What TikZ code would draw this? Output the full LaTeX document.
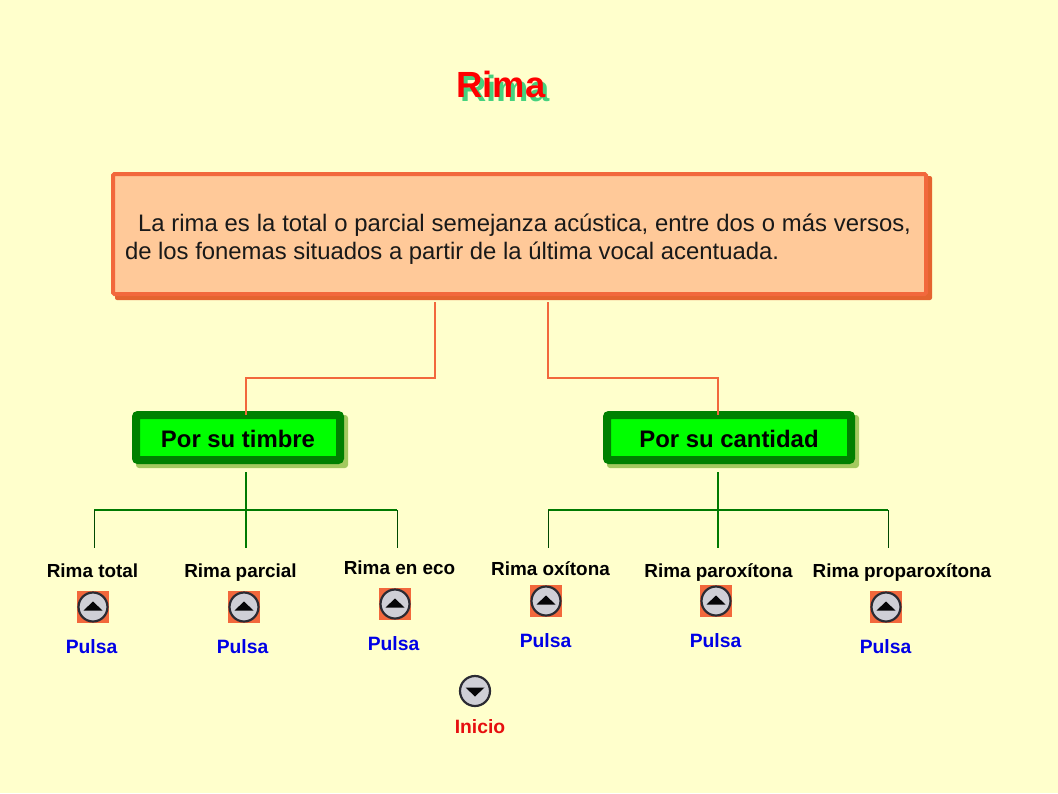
\documentclass[tikz,border=0pt]{standalone}
\usepackage{fontspec}
\setmainfont{Liberation Sans}
\definecolor{bgc}{HTML}{FFFFCC}
\definecolor{orangeln}{HTML}{F2683C}
\definecolor{orangeshadow}{HTML}{E4642F}
\definecolor{peach}{HTML}{FFC999}
\definecolor{greenln}{HTML}{007A00}
\definecolor{greenbord}{HTML}{008000}
\definecolor{greenfill}{HTML}{00FF00}
\definecolor{greenshadow}{HTML}{A3C95F}
\definecolor{titleshadow}{HTML}{45D27E}
\definecolor{btngrey}{HTML}{CFCFD6}
\definecolor{btndark}{HTML}{2B2B33}
\definecolor{pulsablue}{HTML}{0000E6}
\definecolor{iniciored}{HTML}{E60F0F}
\tikzset{
  x=1pt,y=-1pt,
  titletext/.style={font=\fontsize{36.4}{40}\selectfont\bfseries,inner sep=0,anchor=base},
  defbox/.style={draw=orangeln,line width=4pt,fill=peach,rounded corners=1.5pt,minimum width=813pt,minimum height=120pt,inner sep=0},
  defshadow/.style={fill=orangeshadow,rounded corners=2pt,minimum width=817pt,minimum height=124pt,inner sep=0},
  catbox/.style={draw=greenbord,line width=8pt,fill=greenfill,rounded corners=2pt,minimum height=45pt,inner sep=0,text height=19pt,text depth=0pt,font=\fontsize{23.9}{28}\selectfont\bfseries},
  catshadow/.style={fill=greenshadow,rounded corners=3pt,minimum height=53pt,inner sep=0},
  orangeconn/.style={draw=orangeln,line width=1.5pt},
  greenconn/.style={draw=greenln,line width=1.5pt},
  blackconn/.style={draw=greenln!60!black,line width=1pt},
  leaflabel/.style={font=\fontsize{18.9}{22}\selectfont\bfseries,inner sep=0,anchor=base},
  pulsalabel/.style={font=\fontsize{19.3}{22}\selectfont\bfseries,text=pulsablue,inner sep=0,anchor=base},
  iniciolabel/.style={font=\fontsize{19.3}{22}\selectfont\bfseries,text=iniciored,inner sep=0,anchor=base},
  btnsquare/.style={fill=orangeln,minimum size=32pt,inner sep=0},
  btncircle/.style={circle,draw=btndark,line width=2.2pt,fill=btngrey,minimum size=29pt,inner sep=0},
  btntri/.style={fill=black!85!btndark,draw=none},
}
\newcommand{\upbtn}[3]{%
  \node[btnsquare] (#1s) at (#2,#3) {};
  \node[btncircle] (#1c) at (#2,#3) {};
  \fill[btntri] ([shift={(-9.5,3.5)}]#1c.center) -- ([shift={(9.5,3.5)}]#1c.center) -- ([shift={(0,-5.5)}]#1c.center) -- cycle;
}
\begin{document}
\begin{tikzpicture}
\useasboundingbox[fill=bgc] (0,0) rectangle (1058,793);
% title
\node[titletext,text=titleshadow] (titleshadow) at (505,101) {Rima};
\node[titletext,text=red] (title) at (501,97) {Rima};
% definition
\node[defshadow] (defs) at (523.5,238) {};
\node[defbox] (def) at (519.5,234) {};
\node[font=\fontsize{23.87}{28}\selectfont,text width=786pt,align=justify,inner sep=0,text=black!90] (deftext) at (518,239)
 {\hspace*{13pt}La rima es la total o parcial semejanza acústica, entre dos o más versos, de los fonemas situados a partir de la última vocal acentuada.};
% categories
\node[catshadow,minimum width=212pt] (tims) at (242,441.5) {};
\node[catshadow,minimum width=252pt] (cans) at (733,441.5) {};
\node[catbox,minimum width=204pt] (timbre) at (238,437.5) {Por su timbre};
\node[catbox,minimum width=244pt] (cantidad) at (729,437.5) {Por su cantidad};
% coordinates
\coordinate (defL) at (435,302);
\coordinate (defR) at (548,302);
\coordinate (timIn) at (246,414.5);
\coordinate (canIn) at (718,414.5);
\coordinate (timOut) at (246,472);
\coordinate (canOut) at (718,472);
\coordinate (timEnd) at (246,548);
\coordinate (canEnd) at (718,548);
\coordinate (a1) at (94,548);
\coordinate (a2) at (397,548);
\coordinate (b1) at (548,548);
\coordinate (b2) at (888,548);
% connectors
\draw[orangeconn] (defL) |- (timIn |- 0,378) -- (timIn);
\draw[orangeconn] (defR) |- (canIn |- 0,378) -- (canIn);
\draw[greenconn] (timOut) -- (timEnd);
\draw[greenconn] (canOut) -- (canEnd);
\draw[greenconn] (a1 |- 0,510) -- (a2 |- 0,510);
\draw[greenconn] (b1 |- 0,510) -- (b2 |- 0,510);
\draw[blackconn] (a1 |- 0,510) -- (a1);
\draw[blackconn] (a2 |- 0,510) -- (a2);
\draw[blackconn] (b1 |- 0,510) -- (b1);
\draw[blackconn] (b2 |- 0,510) -- (b2);
% leaves
\node[leaflabel] (l1) at (92.5,577) {Rima total};
\node[leaflabel] (l2) at (240.5,577) {Rima parcial};
\node[leaflabel] (l3) at (399.5,574) {Rima en eco};
\node[leaflabel] (l4) at (550.5,575) {Rima oxítona};
\node[leaflabel] (l5) at (718.5,577) {Rima paroxítona};
\node[leaflabel] (l6) at (902,577) {Rima proparoxítona};
\upbtn{b1}{93}{607}
\upbtn{b2}{244}{607}
\upbtn{b3}{395}{604}
\upbtn{b4}{546}{601}
\upbtn{b5}{716}{601}
\upbtn{b6}{886}{607}
\node[pulsalabel] (p1) at (91.5,653) {Pulsa};
\node[pulsalabel] (p2) at (242.5,653) {Pulsa};
\node[pulsalabel] (p3) at (393.5,650) {Pulsa};
\node[pulsalabel] (p4) at (545.5,647) {Pulsa};
\node[pulsalabel] (p5) at (715.5,647) {Pulsa};
\node[pulsalabel] (p6) at (885.5,653) {Pulsa};
% inicio
\node[btncircle,minimum size=30pt] (inicio) at (475,691) {};
\fill[btntri] ([shift={(-9.5,-3.5)}]inicio.center) -- ([shift={(9.5,-3.5)}]inicio.center) -- ([shift={(0,5.5)}]inicio.center) -- cycle;
\node[iniciolabel] (il) at (480,733) {Inicio};
\end{tikzpicture}
\end{document}
